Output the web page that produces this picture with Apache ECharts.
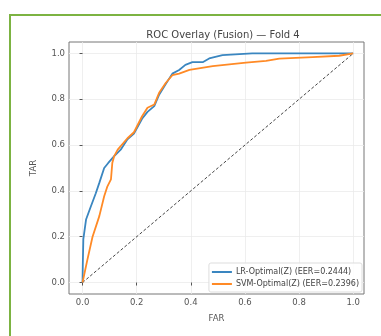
<!DOCTYPE html>
<html>
<head>
<meta charset="utf-8">
<script src="https://cdn.jsdelivr.net/npm/echarts@6/dist/echarts.min.js"></script>
<style>
  html, body { margin: 0; padding: 0; background: #fff; overflow: hidden; }
  #frame { position: absolute; left: 9px; top: 14px; width: 400px; height: 400px;
           border-left: 2px solid #7cb342; border-top: 2px solid #7cb342; box-sizing: border-box; }
  #charts { position: absolute; left: 0; top: 0; width: 381px; height: 336px; }
</style>
</head>
<body>
<div id="frame"></div>
<div id="charts"></div>
<script>
// tick positions on both axes
const ticks = [0, 0.2, 0.4, 0.6, 0.8, 1.0];

// LR-Optimal(Z) ROC points [FAR, TAR]
const lrCurve = [
  [0, 0], [0.001, 0.08], [0.003, 0.19], [0.013, 0.275], [0.031, 0.333],
  [0.049, 0.39], [0.062, 0.435], [0.08, 0.5], [0.095, 0.522], [0.117, 0.552],
  [0.141, 0.58], [0.166, 0.625], [0.19, 0.65], [0.22, 0.715], [0.24, 0.745],
  [0.265, 0.77], [0.283, 0.82], [0.308, 0.868], [0.332, 0.912], [0.357, 0.928],
  [0.38, 0.95], [0.406, 0.962], [0.444, 0.962], [0.468, 0.978], [0.517, 0.993],
  [0.627, 1.0], [1.0, 1.0]
];

// SVM-Optimal(Z) ROC points [FAR, TAR]
const svmCurve = [
  [0, 0], [0.018, 0.1], [0.037, 0.2], [0.062, 0.29], [0.08, 0.377],
  [0.092, 0.42], [0.105, 0.45], [0.11, 0.522], [0.117, 0.552], [0.13, 0.58],
  [0.166, 0.63], [0.19, 0.656], [0.22, 0.726], [0.24, 0.763], [0.265, 0.777],
  [0.283, 0.828], [0.308, 0.872], [0.332, 0.905], [0.357, 0.912], [0.395, 0.928],
  [0.481, 0.945], [0.604, 0.96], [0.678, 0.968], [0.727, 0.977], [0.85, 0.984],
  [0.948, 0.99], [1.0, 1.0]
];

// chance line
const chanceLine = [[0, 0], [1, 1]];

const myChart = echarts.init(document.getElementById('charts'));

const axisCommon = {
  type: 'value',
  axisLine: { show: false },
  axisTick: { show: true, inside: false, length: 3, customValues: ticks, lineStyle: { color: '#555' } },
  axisLabel: {
    customValues: ticks, fontSize: 8.5, color: '#555', margin: 4,
    fontFamily: 'DejaVu Sans', formatter: v => v.toFixed(1)
  },
  splitLine: { show: true, lineStyle: { color: '#ebebeb', width: 0.8 } },
  nameLocation: 'middle',
  nameTextStyle: { fontSize: 8.5, color: '#555', fontFamily: 'DejaVu Sans' }
};

const option = {
  animation: false,
  title: {
    text: 'ROC Overlay (Fusion) \u2014 Fold 4',
    left: 218, top: 25, textAlign: 'center',
    textStyle: { fontSize: 10, fontWeight: 'normal', color: '#444', fontFamily: 'DejaVu Sans' }
  },
  grid: {
    left: 69, top: 42, width: 295, height: 252,
    show: true, borderColor: '#777', borderWidth: 1, backgroundColor: 'transparent'
  },
  xAxis: Object.assign({}, axisCommon, { min: -0.05, max: 1.04, name: 'FAR', nameGap: 20 }),
  yAxis: Object.assign({}, axisCommon, { min: -0.05, max: 1.05, name: 'TAR', nameGap: 31 }),
  legend: {
    orient: 'vertical', right: 19, bottom: 44,
    data: [
      { name: 'LR-Optimal(Z) (EER=0.2444)', icon: 'rect' },
      { name: 'SVM-Optimal(Z) (EER=0.2396)', icon: 'rect' }
    ],
    itemWidth: 20, itemHeight: 2, itemGap: 4,
    padding: [5, 3, 4, 3],
    backgroundColor: 'rgba(255,255,255,0.85)',
    borderColor: '#ddd', borderWidth: 1, borderRadius: 2,
    textStyle: { fontSize: 8, color: '#444', fontFamily: 'DejaVu Sans', padding: [0, 0, 0, -1] }
  },
  series: [
    {
      name: 'LR-Optimal(Z) (EER=0.2444)', type: 'line', data: lrCurve,
      showSymbol: false, symbol: 'none', color: '#3a86c0',
      lineStyle: { width: 1.8, color: '#3a86c0' }, z: 3
    },
    {
      name: 'SVM-Optimal(Z) (EER=0.2396)', type: 'line', data: svmCurve,
      showSymbol: false, symbol: 'none', color: '#ff8a26',
      lineStyle: { width: 1.8, color: '#ff8a26' }, z: 4
    },
    {
      name: 'chance', type: 'line', data: chanceLine,
      showSymbol: false, symbol: 'none',
      lineStyle: { width: 1, color: '#444', type: [3, 2] }, z: 2
    }
  ]
};

myChart.setOption(option);
</script>
</body>
</html>
